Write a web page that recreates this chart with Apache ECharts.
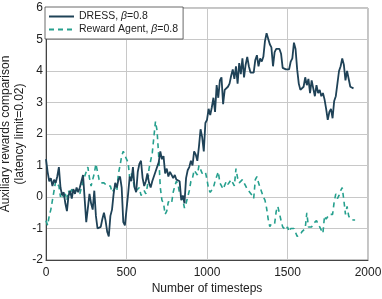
<!DOCTYPE html>
<html><head><meta charset="utf-8">
<script src="https://cdn.jsdelivr.net/npm/echarts@6/dist/echarts.min.js"></script>
<style>html,body{margin:0;padding:0;background:#fff}#c{width:382px;height:299px}</style>
</head><body><div id="c"></div>
<script>
const STEP = 10;
const dressValues = [1.2,0.8,0.5,0.6,0.35,0.55,0.45,0.65,0.95,0.3,
0.05,0.15,-0.2,-0.45,0.05,0.2,-0.05,0.25,0.1,0.3,
0.15,0.3,0.25,0.7,0.75,-0.8,-0.35,0.1,-0.2,-0.4,
0.2,-0.6,-1.0,-1.05,-0.95,-0.7,-0.5,-0.75,-1.1,-1.25,
-0.6,-0.4,0.1,0.45,0.3,0.55,0.65,0.3,-0.8,-0.9,
-0.9,0.1,0.65,0.5,0.95,0.3,0.15,0.8,1.05,1.15,
0.6,0.35,0.5,0.75,0.45,0.3,0.5,0.65,0.8,0.95,
1.1,1.45,1.2,1.3,0.75,0.9,0.65,0.8,0.7,0.6,
0.7,0.55,0.6,0.5,-0.1,0.05,-0.2,0.6,0.85,0.95,
1.15,1.0,1.45,1.35,1.15,1.6,2.15,1.9,1.45,2.35,
2.45,2.8,2.6,2.85,3.15,2.7,3.55,3.15,3.7,3.8,
2.95,3.4,3.35,3.5,3.6,3.85,4.05,3.75,4.15,3.6,
4.25,3.9,4.4,3.8,4.2,4.45,4.15,3.95,4.0,3.95,
4.35,4.5,4.15,4.4,4.3,4.45,4.95,5.2,5.25,4.85,
4.75,4.15,4.6,4.7,4.65,4.7,4.55,4.1,4.05,4.05,
4.0,4.05,4.3,4.4,4.9,4.7,4.05,3.6,3.4,3.35,
3.5,3.8,3.55,3.75,3.3,3.7,3.45,3.2,3.55,3.3,
3.4,3.2,3.3,3.1,2.8,2.45,2.7,2.8,2.5,3.05,
3.2,3.6,4.0,4.15,4.4,4.2,3.7,4.0,3.95,3.5,
3.5,3.45];
const rewardValues = [-0.75,-0.9,-0.6,-0.4,-0.1,0.2,0.5,0.45,0.35,0.0,
0.15,-0.05,0.1,-0.1,0.2,0.05,0.25,0.1,0.2,0.15,
0.2,0.1,0.3,0.5,0.65,0.8,0.95,0.6,0.35,0.55,
0.75,1.05,0.8,0.55,0.45,0.4,0.45,0.4,0.35,0.3,
0.35,0.15,0.1,0.3,0.2,0.75,1.0,1.3,1.45,1.5,
1.2,1.1,0.6,0.75,0.55,0.3,0.2,0.15,0.3,0.05,
0.0,0.2,0.1,0.35,0.9,1.15,1.4,1.9,2.4,2.1,
1.3,0.3,-0.1,-0.2,-0.55,-0.45,-0.15,-0.1,-0.2,0.15,
0.35,0.5,0.4,0.1,0.0,-0.1,-0.35,-0.2,-0.15,0.2,
0.5,0.6,0.85,0.9,0.7,1.0,1.05,0.75,0.7,0.8,
0.55,0.25,0.15,0.1,0.3,0.5,0.65,0.8,0.45,0.35,
0.25,0.3,0.5,0.4,0.45,0.55,0.6,0.35,0.9,0.6,
0.45,0.4,0.55,0.45,0.35,0.25,0.2,0.12,0.05,-0.05,
0.55,0.65,0.45,0.3,0.15,0.0,-0.1,-0.35,-0.7,-0.94,
-0.85,-0.88,-0.85,-0.45,-0.3,-0.3,-0.75,-0.95,-1.0,-1.05,
-0.95,-1.1,-1.0,-0.95,-1.0,-1.0,-1.25,-1.3,-1.2,-1.1,
-1.15,-1.0,-0.5,-0.95,-0.9,-0.95,-0.85,-0.9,-0.75,-0.85,
-0.95,-0.9,-1.15,-0.6,-0.7,-0.65,-0.55,-0.6,-0.55,-0.15,
0.1,-0.05,0.05,0.2,0.3,-0.1,-0.55,-0.3,-0.6,-0.7,
-0.72,-0.73,-0.73];
const xTicks = [0,500,1000,1500,2000];
const yTicks = [-2,-1,0,1,2,3,4,5,6];

const toPairs = vals => vals.map((v,i)=>[i*STEP, v]);
const FONT = 'Liberation Sans';
const chart = echarts.init(document.getElementById('c'));
chart.setOption({
  animation:false,
  backgroundColor:'#fff',
  textStyle:{fontFamily:FONT},
  grid:{left:46,right:14,top:8,bottom:39,show:true,borderColor:'#8a8a8a',borderWidth:1,
    containLabel:false,outerBoundsMode:'none'},
  legend:{
    left:45, top:7, orient:'vertical', itemWidth:25, itemHeight:12, itemGap:2,
    padding:[4,5,4,3], backgroundColor:'#fff', borderColor:'#444', borderWidth:0.8,
    itemStyle:{opacity:0},
    textStyle:{fontFamily:FONT,fontSize:10.5,color:'#222',
      rich:{a:{fontFamily:FONT,fontSize:10.5,color:'#222'},b:{fontFamily:FONT,fontSize:10.5,fontStyle:'italic',color:'#222'}}},
    formatter:n=>{
      const p=n.split('β');
      return '{a|'+p[0]+'}{b|β}{a|'+p[1]+'}';
    },
    data:['DRESS, β=0.8','Reward Agent, β=0.8']
  },
  xAxis:{type:'value',min:xTicks[0],max:xTicks[xTicks.length-1],interval:500,
    name:'Number of timesteps',nameLocation:'middle',nameGap:23,nameMoveOverlap:false,
    nameTextStyle:{fontFamily:FONT,fontSize:12,color:'#222'},
    axisLine:{onZero:false,lineStyle:{color:'#444'}},axisTick:{show:false},
    axisLabel:{fontFamily:FONT,fontSize:12,color:'#222',margin:7,formatter:v=>String(v)},
    splitLine:{lineStyle:{color:'#c8c8c8'}}},
  yAxis:{type:'value',min:yTicks[0],max:yTicks[yTicks.length-1],interval:1,
    name:'Auxiliary rewards comparison\n(latency limit=0.02)',nameLocation:'middle',nameGap:19,nameMoveOverlap:false,
    nameTextStyle:{fontFamily:FONT,fontSize:12,color:'#222',lineHeight:14},
    axisLine:{show:true,onZero:false,lineStyle:{color:'#444'}},axisTick:{show:false},
    axisLabel:{fontFamily:FONT,fontSize:12,color:'#222',margin:3},
    splitLine:{lineStyle:{color:'#c8c8c8'}}},
  series:[
    {name:'DRESS, β=0.8',type:'line',data:toPairs(dressValues),symbol:'none',
      lineStyle:{color:'#1f4257',width:1.8},itemStyle:{color:'#1f4257'},z:3},
    {name:'Reward Agent, β=0.8',type:'line',data:toPairs(rewardValues),symbol:'none',
      lineStyle:{color:'#26a08e',width:1.6,type:[5,4]},itemStyle:{color:'#26a08e'},z:2}
  ]
});
</script></body></html>
